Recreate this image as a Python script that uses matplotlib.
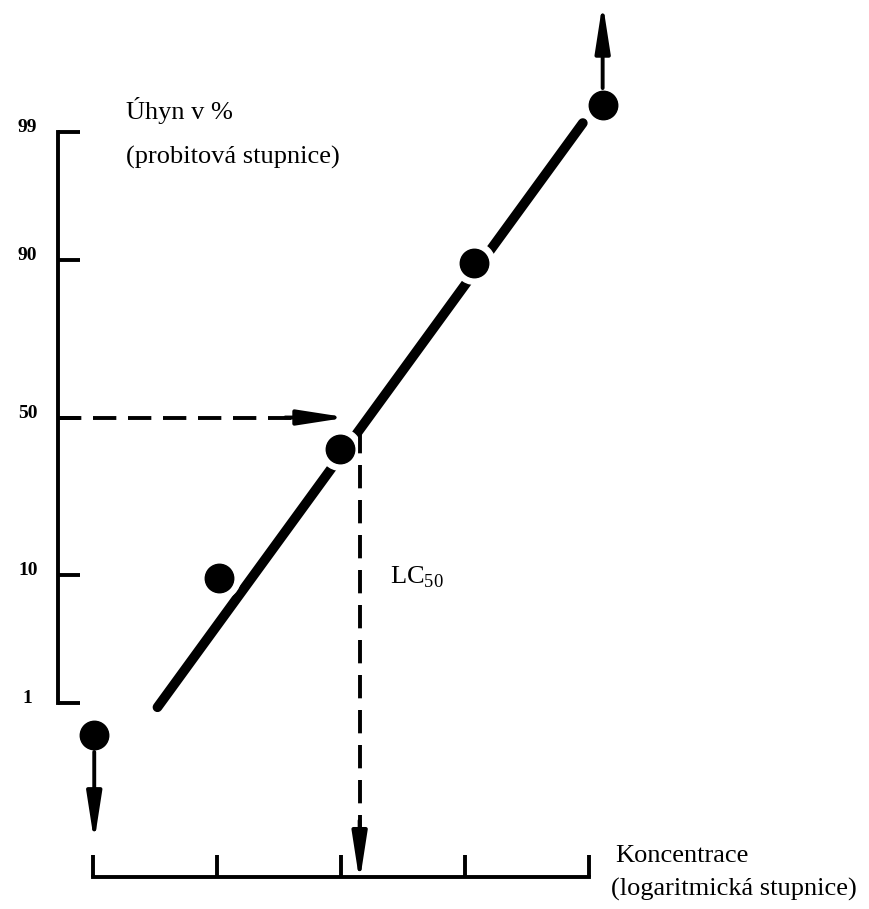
import matplotlib
matplotlib.use("Agg")
import matplotlib.pyplot as plt
from statistics import NormalDist

# y axis: mortality in %, drawn on a probit scale
y_ticks = [1, 10, 50, 90, 99]
y_tick_labels = ['1', '10', '50', '90', '99']
# x axis: log concentration steps
x_ticks = [0, 1, 2, 3, 4]

# measured points (log concentration, mortality %)
conc = [0.01, 1.02, 1.99, 3.07, 4.11]
mortality = [0.48, 9.5, 40, 89.6, 99.46]

# fitted probit line (end points)
fit_conc = [0.52, 3.95]
fit_mortality = [0.91, 99.18]

# LC50
lc50 = 2.15


def probit(pct):
    return NormalDist().inv_cdf(pct / 100.0) + 5


plt.rcParams['font.family'] = ['Liberation Serif', 'DejaVu Serif']
plt.rcParams['mathtext.fontset'] = 'custom'
plt.rcParams['mathtext.rm'] = 'Liberation Serif'

fig = plt.figure(figsize=(8.7, 9.09), dpi=100)
ax = fig.add_axes([0, 0, 1, 1])
ax.set_xlim(-0.75, 6.266)
ax.set_ylim(0.994, 8.403)

# axes: left spine with probit ticks, bottom spine with concentration ticks
ax.spines['top'].set_visible(False)
ax.spines['right'].set_visible(False)
ax.spines['left'].set_position(('data', -0.28))
ax.spines['bottom'].set_position(('data', 1.255))
ax.spines['left'].set_bounds(probit(y_ticks[0]), probit(y_ticks[-1]))
ax.spines['bottom'].set_bounds(x_ticks[0], x_ticks[-1])
for s in ['left', 'bottom']:
    ax.spines[s].set_linewidth(2.8)
    ax.spines[s].set_capstyle('projecting')

ax.set_yticks([probit(v) for v in y_ticks])
ax.set_yticklabels(y_tick_labels)
ax.set_xticks(x_ticks)
ax.set_xticklabels([])
ax.tick_params(axis='y', direction='in', length=16, width=2.8, pad=22,
               labelsize=14)
ax.tick_params(axis='x', direction='in', length=16, width=2.8)
for lab in ax.get_yticklabels():
    lab.set_horizontalalignment('center')
    lab.set_verticalalignment('baseline')
    lab.set_fontweight('bold')

p_points = [probit(v) for v in mortality]
p_fit = [probit(v) for v in fit_mortality]

# fitted line, broken around the points
ax.plot(fit_conc, p_fit, color='black', lw=7, solid_capstyle='round', zorder=2)
ax.plot(conc, p_points, 'o', color='white', ms=30, zorder=3)
ax.plot(conc, p_points, 'o', color='black', ms=20.5, zorder=5)

head = '-|>,head_length=2.9,head_width=0.45'

# dashed guide lines for LC50
h_end = 2.05
ax.plot([-0.28, h_end - 0.25], [5, 5], color='black', lw=2.8,
        linestyle=(0, (6, 3)), zorder=4)
ax.annotate('', xy=(h_end, 5), xytext=(h_end - 0.5, 5),
            arrowprops=dict(arrowstyle=head, color='black', lw=2.8,
                            shrinkA=0, shrinkB=0),
            zorder=4)
v_end = 1.215
ax.plot([lc50, lc50], [probit(46), v_end + 0.25], color='black', lw=2.8,
        linestyle=(0, (6, 3)), zorder=4)
ax.annotate('', xy=(lc50, v_end), xytext=(lc50, v_end + 0.5),
            arrowprops=dict(arrowstyle=head, color='black', lw=2.8,
                            shrinkA=0, shrinkB=0),
            zorder=4)

# arrows for the points outside the scale
ax.annotate('', xy=(conc[0], 1.54), xytext=(conc[0], p_points[0]),
            arrowprops=dict(arrowstyle=head, color='black', lw=2.8,
                            shrinkA=12, shrinkB=0),
            zorder=4)
ax.annotate('', xy=(conc[-1], 8.38), xytext=(conc[-1], p_points[-1]),
            arrowprops=dict(arrowstyle=head, color='black', lw=2.8,
                            shrinkA=12, shrinkB=0),
            zorder=4)

fig.text(126 / 870, 1 - 111 / 909, 'Úhyn v %', fontsize=19, va='center')
fig.text(126 / 870, 1 - 157 / 909, '(probitová stupnice)', fontsize=19, va='center')
fig.text(390 / 870, 1 - 577 / 909, r'LC$_{\mathrm{50}}$', fontsize=19, va='center')
fig.text(615 / 870, 1 - 856 / 909, 'Koncentrace', fontsize=19, va='center')
fig.text(611 / 870, 1 - 889 / 909, '(logaritmická stupnice)', fontsize=19, va='center')

fig.savefig('out.png', dpi=100, facecolor='white')
